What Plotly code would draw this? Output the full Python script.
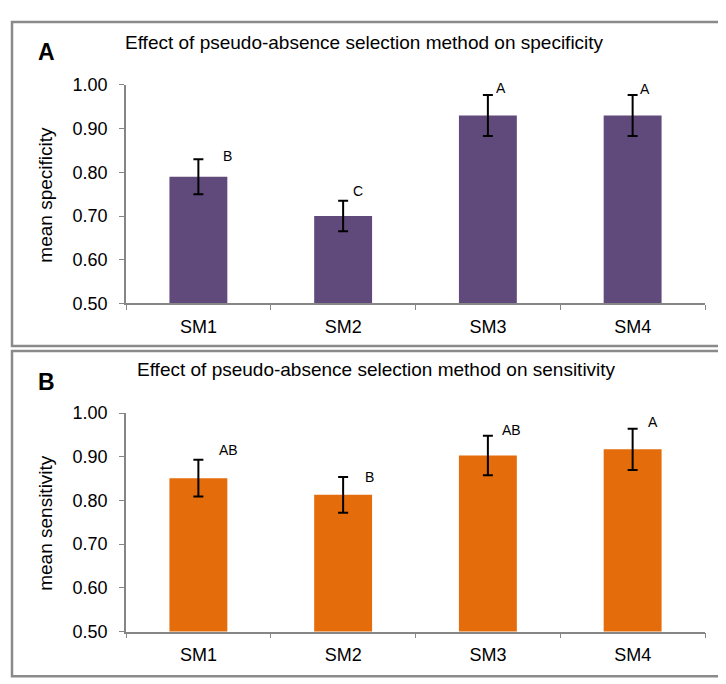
import plotly.graph_objects as go

# ---- data ----
methods = ["SM1", "SM2", "SM3", "SM4"]

spec_mean = [0.79, 0.70, 0.93, 0.93]
spec_err = [0.040, 0.035, 0.047, 0.047]
spec_letters = ["B", "C", "A", "A"]

sens_mean = [0.851, 0.813, 0.903, 0.917]
sens_err = [0.042, 0.041, 0.045, 0.047]
sens_letters = ["AB", "B", "AB", "A"]

W, H = 726, 684
FONT = "Liberation Sans, Arial, sans-serif"
PURPLE = "#604a7b"
ORANGE = "#e46c0a"
AXIS_GREY = "#868686"


def px_x(x):
    return x / W


def px_y(y):
    return 1 - y / H


fig = go.Figure()

fig.add_trace(go.Bar(
    x=methods, y=spec_mean, width=0.4,
    marker=dict(color=PURPLE, line=dict(width=0)),
    error_y=dict(type="data", array=spec_err, color="black", thickness=2, width=5),
    xaxis="x", yaxis="y", showlegend=False))

fig.add_trace(go.Bar(
    x=methods, y=sens_mean, width=0.4,
    marker=dict(color=ORANGE, line=dict(width=0)),
    error_y=dict(type="data", array=sens_err, color="black", thickness=2, width=5),
    xaxis="x2", yaxis="y2", showlegend=False))

# ---- axes ----
xa = dict(
    type="category", showgrid=False, zeroline=False,
    showline=True, linecolor=AXIS_GREY, linewidth=1.5,
    ticks="outside", tickson="boundaries", ticklen=5, tickcolor=AXIS_GREY,
    ticklabelstandoff=6,
    tickfont=dict(family=FONT, size=18, color="black"),
    range=[-0.5, 3.5], fixedrange=True)
ya = dict(
    range=[0.5, 1.0], dtick=0.1, tickformat=".2f", showgrid=False, zeroline=False,
    showline=True, linecolor=AXIS_GREY, linewidth=1.5,
    ticks="outside", ticklen=5, tickcolor=AXIS_GREY, ticklabelstandoff=8,
    tickfont=dict(family=FONT, size=18, color="black"), fixedrange=True)

x_dom = [px_x(118), px_x(697)]

fig.update_layout(
    width=W, height=H,
    margin=dict(l=0, r=0, t=0, b=0),
    paper_bgcolor="white", plot_bgcolor="white",
    font=dict(family=FONT, color="black"),
    xaxis=dict(xa, domain=x_dom, anchor="y"),
    yaxis=dict(ya, domain=[px_y(294), px_y(69)], anchor="x"),
    xaxis2=dict(xa, domain=x_dom, anchor="y2"),
    yaxis2=dict(ya, domain=[px_y(632), px_y(407)], anchor="x2"),
)

# ---- panel frames ----
for top, bottom in [(4, 338), (343, 678)]:
    fig.add_shape(type="rect", xref="paper", yref="paper",
                  x0=px_x(4), x1=px_x(720), y0=px_y(bottom), y1=px_y(top),
                  line=dict(color="#8a8a8a", width=2.5), fillcolor="rgba(0,0,0,0)")

# ---- titles, panel letters, y titles ----
panels = [
    ("A", "Effect of pseudo-absence selection method on specificity", "mean specificity", 35, 25, 356, 182),
    ("B", "Effect of pseudo-absence selection method on sensitivity", "mean sensitivity", 375, 362, 368, 520),
]
for letter, title, ytitle, ly, ty, tx, yy in panels:
    fig.add_annotation(text="<b>%s</b>" % letter, xref="paper", yref="paper",
                       x=px_x(38), y=px_y(ly), xanchor="center", yanchor="middle",
                       showarrow=False, font=dict(family=FONT, size=23, color="black"))
    fig.add_annotation(text=title, xref="paper", yref="paper",
                       x=px_x(tx), y=px_y(ty), xanchor="center", yanchor="middle",
                       showarrow=False, font=dict(family=FONT, size=19, color="black"))
    fig.add_annotation(text=ytitle, xref="paper", yref="paper", textangle=-90,
                       x=px_x(38), y=px_y(yy), xanchor="center", yanchor="middle",
                       showarrow=False, font=dict(family=FONT, size=19, color="black"))

# ---- significance letters ----
spec_shift = [(29, 3), (15, 10), (13, 7), (12, 6)]
sens_shift = [(30, 10), (26, 0), (24, 6), (20, 7)]
for xr, yr, means, errs, letters, shifts in [
        ("x", "y", spec_mean, spec_err, spec_letters, spec_shift),
        ("x2", "y2", sens_mean, sens_err, sens_letters, sens_shift)]:
    for m, v, e, t, (dx, dy) in zip(methods, means, errs, letters, shifts):
        fig.add_annotation(text=t, x=m, y=v + e, xref=xr, yref=yr,
                           xshift=dx, yshift=dy, xanchor="center", yanchor="middle",
                           showarrow=False, font=dict(family=FONT, size=14, color="black"))

fig.write_html("out.html")
